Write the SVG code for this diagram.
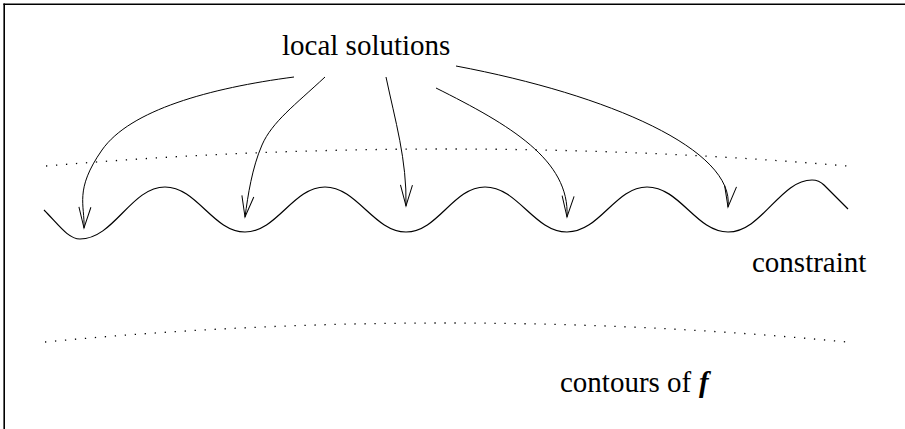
<svg xmlns="http://www.w3.org/2000/svg" width="905" height="429" viewBox="0 0 905 429">
  <style>
    .lbl { font-size: 29px; fill: #000; }
    .var { font-size: 29px; font-weight: bold; font-style: italic; fill: #000; }
    .curve { fill: none; stroke: #000; stroke-width: 1.2; }
    .dotted { fill: none; stroke: #000; stroke-width: 1.3; stroke-dasharray: 1.3 8.7; }
    .arrow { fill: none; stroke: #000; stroke-width: 1; marker-end: url(#vhead); }
    .frame { stroke: #000; stroke-width: 1.6; }
  </style>
  <defs>
    <marker id="vhead" markerUnits="userSpaceOnUse" viewBox="-25 -10 30 20" refX="0" refY="0" markerWidth="30" markerHeight="20" orient="auto">
      <path d="M-21,-6 L0,0 L-21,6" fill="none" stroke="#000" stroke-width="1"/>
    </marker>
  </defs>
  <rect width="905" height="429" fill="#fff"/>
  <g id="frame">
    <line class="frame" x1="4.2" y1="3.4" x2="4.2" y2="429"/>
    <line class="frame" x1="3.4" y1="4.2" x2="905" y2="4.2"/>
  </g>
  <g id="contour-upper">
    <path class="dotted" d="M46,166 Q446,132 847,166"/>
  </g>
  <g id="contour-lower">
    <path class="dotted" d="M45,342 Q446,304 847,342"/>
  </g>
  <g id="constraint-curve">
    <path class="curve" d="M44,210 C58,224 68,239 80,239 C114,239 131,187 165,187 C197,187 213,232 245,232 C277,232 293,187 325,187 C357,187 374,232 406,232 C438,232 453,187 485,187 C518,187 534,232 567,232 C600,232 615,187 647,187 C680,187 696,232 728,232 C762,232 780,180 812,180 C817,180 820,181 824,185 L848,209"/>
  </g>
  <g id="label-local-solutions" font-family="Liberation Serif, Times New Roman, serif">
    <text class="lbl" x="282" y="55">local solutions</text>
  </g>
  <g id="label-constraint" font-family="Liberation Serif, Times New Roman, serif">
    <text class="lbl" x="752" y="272">constraint</text>
  </g>
  <g id="label-contours" font-family="Liberation Serif, Times New Roman, serif">
    <text class="lbl" x="560" y="392">contours of</text>
    <text class="var" x="699" y="392">f</text>
  </g>
  <g id="connectors">
    <path class="arrow" d="M294,77 C210,88 130,110 102,150 S85,205 84,228"/>
    <path class="arrow" d="M325,77 C295,105 272,122 262,145 S248,195 245,217"/>
    <path class="arrow" d="M386,77 C395,120 407,160 406,206"/>
    <path class="arrow" d="M436,88 C510,125 570,160 567,217"/>
    <path class="arrow" d="M456,66 C610,95 735,150 728,207"/>
  </g>
</svg>
